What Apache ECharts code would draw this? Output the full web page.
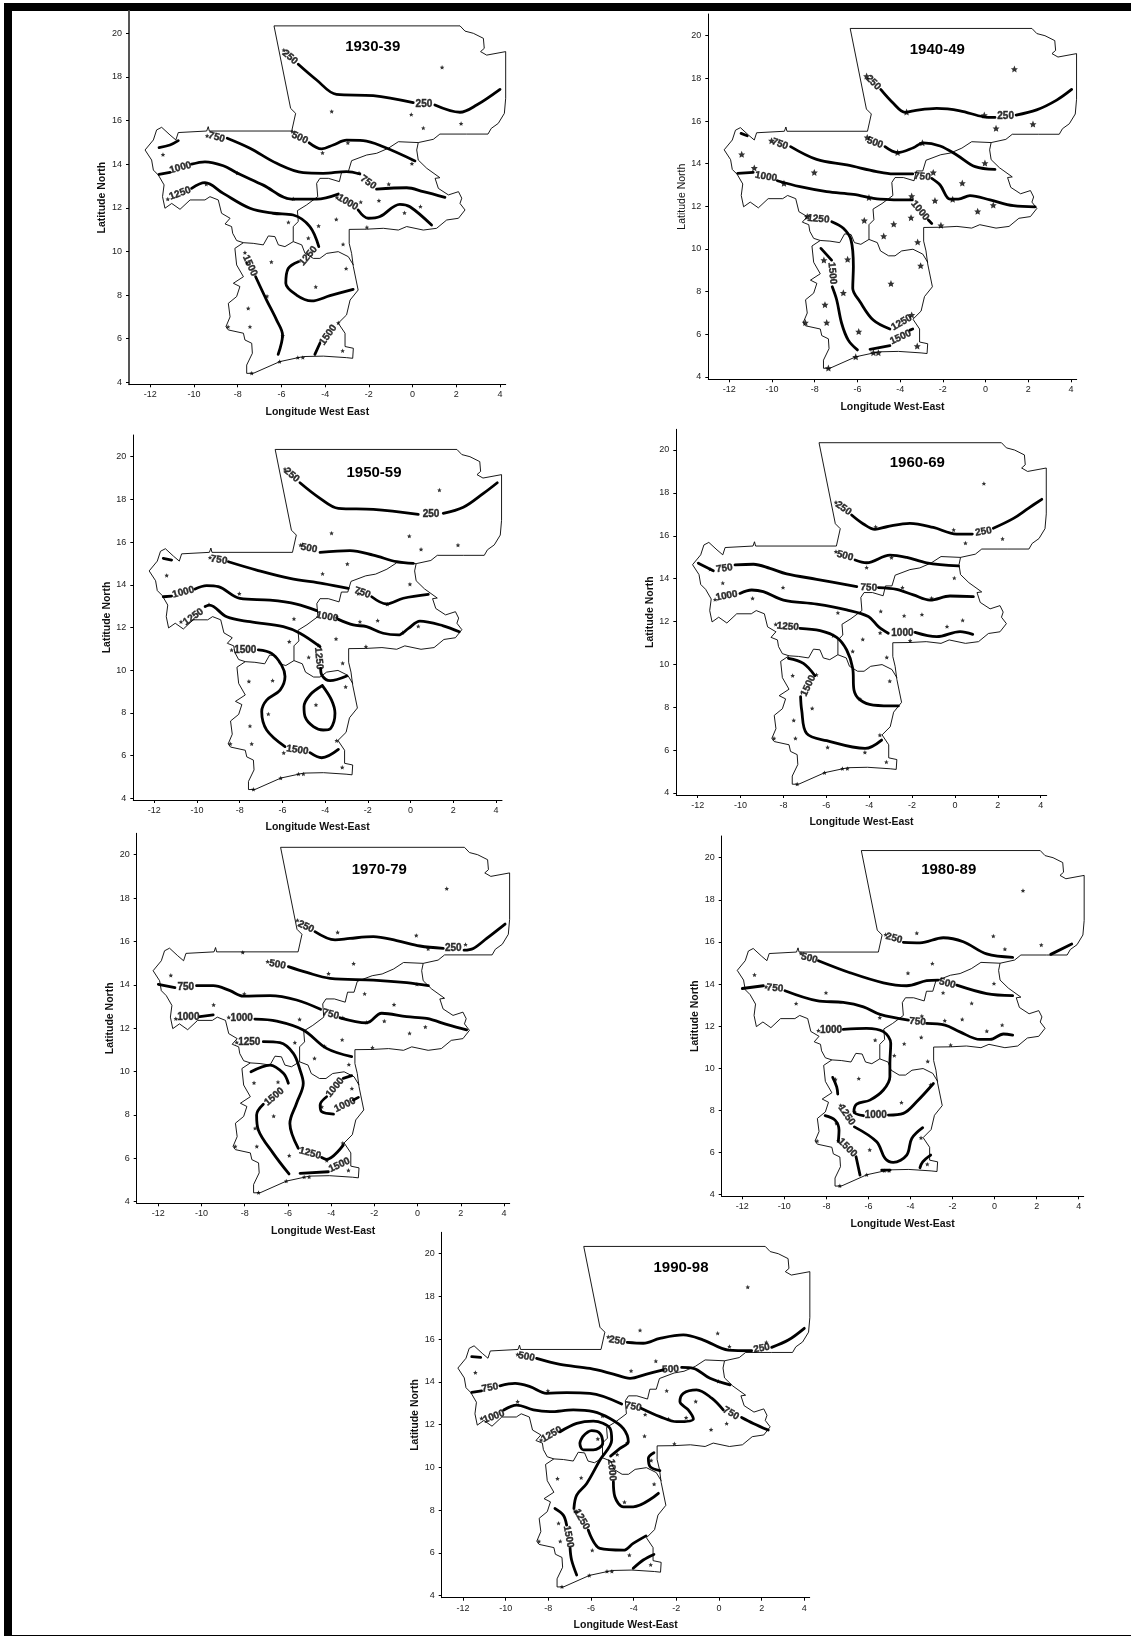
<!DOCTYPE html>
<html><head><meta charset="utf-8"><style>html,body{margin:0;padding:0;background:#fff}#c{width:1131px;height:1636px}</style>
<script src="https://cdn.jsdelivr.net/npm/echarts@6/dist/echarts.min.js"></script></head>
<body><div id="c"></div>
<script>
const xTicks=[-12,-10,-8,-6,-4,-2,0,2,4];
const yTicks=[4,6,8,10,12,14,16,18,20];
const outline=[[-6.34,20.34],[2.17,20.34],[2.4,20.1],[2.78,20.0],[3.24,19.77],[3.28,19.31],[3.11,19.16],[3.39,19.0],[4.26,19.16],[4.26,17.02],[4.2,16.33],[3.92,15.87],[3.6,15.64],[3.45,15.38],[2.47,15.38],[1.25,15.38],[0.95,15.14],[0.26,14.99],[0.19,14.65],[0.26,14.19],[0.65,13.81],[1.25,13.38],[1.03,13.35],[1.18,12.89],[1.64,12.59],[2.1,12.74],[2.25,12.44],[2.17,12.2],[2.4,11.9],[2.1,11.52],[1.56,11.44],[1.1,11.06],[0.49,10.98],[-0.27,11.14],[-0.65,10.98],[-1.34,11.06],[-2.1,11.02],[-2.9,11.01],[-2.9,10.37],[-2.79,9.91],[-2.71,9.3],[-2.49,8.23],[-2.86,7.77],[-3.02,7.09],[-3.4,6.71],[-3.09,6.25],[-3.09,5.64],[-2.71,5.56],[-2.74,5.1],[-3.02,5.13],[-4.08,5.2],[-5.0,5.18],[-6.07,4.95],[-7.29,4.41],[-7.59,4.41],[-7.59,4.79],[-7.33,5.33],[-7.36,5.79],[-7.67,5.94],[-7.74,6.25],[-8.43,6.4],[-8.54,6.55],[-8.35,7.0],[-8.43,7.62],[-8.05,7.93],[-7.9,8.39],[-8.2,8.54],[-7.74,8.84],[-8.05,9.38],[-8.13,10.14],[-7.74,10.4],[-8.05,10.5],[-8.23,10.83],[-8.28,11.14],[-8.58,11.26],[-8.35,11.52],[-8.74,11.75],[-8.89,12.36],[-9.27,12.51],[-9.5,12.36],[-10.18,12.36],[-10.64,11.93],[-11.02,12.2],[-11.33,11.98],[-11.44,12.51],[-11.37,13.05],[-11.63,13.5],[-11.86,13.73],[-11.94,14.19],[-12.24,14.65],[-11.86,15.11],[-11.71,15.57],[-11.48,15.69],[-11.1,15.34],[-10.83,15.11],[-10.72,15.45],[-9.42,15.52],[-9.35,15.72],[-9.3,15.52],[-5.53,15.52],[-5.35,16.33],[-5.58,16.56],[-6.34,20.34]];
const borderNorth=[[0.26,14.99],[-0.65,15.03],[-1.11,14.73],[-1.64,14.5],[-2.1,14.42],[-2.79,14.16],[-2.94,13.66],[-3.24,13.66],[-3.35,13.2],[-3.85,13.35],[-4.24,13.35],[-4.39,13.12],[-4.34,12.51],[-4.85,12.13],[-5.27,11.87],[-5.23,11.37],[-5.46,11.14],[-5.46,10.45],[-5.84,10.22],[-6.14,10.3],[-6.3,10.68],[-6.6,10.71],[-6.83,10.3],[-7.29,10.37],[-7.74,10.4]];
const borderSouth=[[-5.46,10.45],[-5.07,10.3],[-4.92,9.91],[-4.54,9.68],[-4.24,9.68],[-3.93,9.91],[-3.4,9.99],[-2.94,9.76],[-2.71,9.38]];
const stations=[[1.35,18.44],[-0.06,16.28],[0.49,15.66],[2.22,15.86],[-3.7,16.42],[-2.96,14.98],[-4.12,14.52],[-11.42,14.44],[-9.44,13.08],[-8.02,13.59],[-5.46,12.41],[-5.68,11.34],[-4.3,11.17],[-4.77,10.61],[-3.49,11.47],[-3.46,12.48],[-2.37,12.27],[-1.54,12.33],[-1.09,13.09],[-2.45,13.59],[-0.03,14.03],[0.36,12.06],[-0.37,11.77],[-2.09,11.11],[-3.18,10.33],[-3.04,9.22],[-4.43,8.38],[-6.46,9.52],[-7.57,9.48],[-6.66,7.95],[-7.52,7.39],[-7.44,6.55],[-8.44,6.55],[-5.94,6.13],[-3.2,5.45],[-6.08,4.95],[-7.36,4.42],[-5.25,5.14],[-5.02,5.14]];

const iso1930=[[[-5.23,18.58],[-4.39,17.86],[-3.48,17.2],[-1.8,17.14],[0.03,16.82]],[[1.02,16.71],[2.17,16.38],[2.93,16.71],[4.0,17.43]],[[-4.73,14.98],[-4.16,14.7],[-3.63,14.88],[-3.02,15.1],[-2.26,15.08],[-1.34,14.8],[0.11,14.15]],[[-11.6,14.76],[-11.1,14.88],[-10.72,15.08]],[[-8.48,15.19],[-7.44,14.73],[-6.22,14.04],[-5.0,13.61],[-4.09,13.58],[-3.02,13.66],[-2.41,13.55]],[[-1.65,12.86],[-0.27,12.92],[0.49,12.74],[1.48,12.48]],[[-11.6,13.53],[-11.1,13.62]],[[-10.11,14.0],[-9.5,14.11],[-8.66,13.93],[-8.05,13.61],[-6.83,13.04],[-5.54,12.4],[-4.39,12.4],[-3.4,12.63]],[[-2.49,11.9],[-2.03,11.52],[-1.49,11.6],[-0.58,12.16],[-0.12,12.05],[0.87,11.21]],[[-10.11,12.89],[-9.5,13.15],[-8.66,12.66],[-7.44,11.98],[-6.38,11.75],[-5.46,11.67],[-4.7,11.14],[-4.29,10.22]],[[-5.23,9.53],[-5.69,9.22],[-5.8,8.54],[-5.31,8.0],[-4.62,7.73],[-3.78,7.97],[-2.72,8.26]],[[-7.18,8.84],[-6.68,7.77],[-6.22,6.85],[-5.95,6.17],[-6.15,5.28]],[[-4.47,5.28],[-4.24,5.79]]];
const labels1930=[[-5.61,18.9,'250'],[0.52,16.76,'250'],[-5.16,15.21,'500'],[-8.97,15.23,'750'],[-2.03,13.17,'750'],[-10.62,13.84,'1000'],[-2.97,12.25,'1000'],[-10.64,12.66,'1250'],[-4.77,9.79,'1250'],[-7.44,9.35,'1500'],[-3.86,6.17,'1500']];
const rot1930=[-40,0,-25,-15,-35,15,-30,20,50,-65,55];
const extra1930=[[-9.4,15.3],[-11.2,12.4],[-7.67,9.95],[-5.89,19.23],[-3.4,6.73],[-5.5,15.5]];

const iso1940=[[[-4.91,17.48],[-4.32,16.83],[-3.77,16.41],[-3.38,16.48],[-2.29,16.59],[-1.2,16.48],[-0.1,16.2],[0.44,16.17]],[[1.43,16.28],[2.39,16.52],[3.33,16.98],[4.03,17.48]],[[-4.71,14.8],[-4.12,14.52],[-3.38,14.75],[-2.92,14.98],[-2.13,14.83],[-1.35,14.41],[-0.49,13.86],[0.44,13.73]],[[-9.13,14.8],[-7.91,14.2],[-6.5,13.94],[-5.1,13.63],[-4.32,13.52],[-3.41,13.52]],[[-2.52,13.31],[-2.13,13.0],[-1.67,12.34],[-1.28,12.34],[-0.73,12.5],[0.21,12.3],[1.3,12.03],[2.32,11.98]],[[-11.45,15.42],[-11.16,15.31]],[[-11.61,13.55],[-10.88,13.59]],[[-9.75,13.2],[-8.69,12.92],[-7.44,12.69],[-6.19,12.56],[-4.94,12.34],[-3.43,12.3]],[[-2.68,11.36],[-2.52,11.2]],[[-7.2,11.28],[-6.66,10.97],[-6.3,10.42],[-6.19,9.17],[-6.22,8.16],[-5.88,7.53],[-5.26,6.67],[-4.48,6.25]],[[-7.71,10.03],[-7.21,9.48]],[[-7.18,8.23],[-6.97,7.61],[-6.74,6.52],[-6.43,5.73],[-6.0,5.27]],[[-5.41,5.3],[-4.48,5.47]],[[-3.54,6.2],[-3.41,6.25]]];
const labels1940=[[-5.26,17.8,'250'],[0.94,16.23,'250'],[-5.18,14.98,'500'],[-9.63,14.92,'750'],[-2.96,13.39,'750'],[-10.28,13.39,'1000'],[-3.07,11.8,'1000'],[-7.83,11.41,'1250'],[-3.93,6.55,'1250'],[-7.18,8.86,'1500'],[-3.98,5.86,'1500']];
const rot1940=[-45,0,-20,-20,-5,-10,-50,-5,30,-85,25];
const extra1940=[[-5.57,18.11],[-10.02,15.08],[-5.54,15.23],[-8.35,11.52],[-3.46,6.91],[-10.83,13.8]];

const iso1950=[[[-5.18,18.78],[-4.24,18.05],[-3.38,17.58],[-1.74,17.53],[0.36,17.3]],[[1.53,17.35],[2.47,17.63],[3.41,18.28],[4.06,18.78]],[[-4.24,15.52],[-2.84,15.6],[-1.75,15.39],[-0.65,15.08],[0.13,15.0]],[[-11.58,15.24],[-11.19,15.16]],[[-8.53,15.08],[-7.21,14.69],[-5.65,14.3],[-4.09,14.06],[-2.92,13.83]],[[-1.82,13.44],[-1.12,13.1],[-0.34,13.37],[0.83,13.55]],[[-11.58,13.44],[-11.19,13.47]],[[-10.09,13.8],[-9.55,13.96],[-9.0,13.91],[-7.99,13.36],[-6.58,13.28],[-5.34,13.1],[-4.4,12.79]],[[-3.38,12.38],[-2.68,12.12],[-2.06,12.04],[-1.28,11.73],[-0.57,11.65],[-0.1,11.96],[0.44,12.3],[1.53,12.08],[2.28,11.8]],[[-9.62,12.98],[-9.42,13.05],[-8.61,12.5],[-7.52,12.27],[-5.96,12.04],[-5.18,11.73],[-4.24,11.1]],[[-4.21,10.09],[-4.16,9.78],[-3.77,9.51],[-2.99,9.73]],[[-4.13,9.28],[-4.71,8.84],[-4.99,8.29],[-4.94,7.82],[-4.55,7.36],[-4.09,7.2],[-3.74,7.28],[-3.54,7.98],[-3.7,8.6],[-4.13,9.28]],[[-7.13,10.95],[-6.51,10.79],[-6.04,10.24],[-5.88,9.7],[-6.11,9.07],[-6.74,8.6],[-6.97,8.06],[-6.74,7.2],[-5.88,6.42]],[[-4.71,6.14],[-4.16,5.9],[-3.38,6.29]]];
const labels1950=[[-5.57,19.14,'250'],[0.96,17.32,'250'],[-4.76,15.71,'500'],[-8.97,15.16,'750'],[-2.26,13.63,'750'],[-10.64,13.65,'1000'],[-3.9,12.5,'1000'],[-10.17,12.5,'1250'],[-4.3,10.55,'1250'],[-7.74,10.92,'1500'],[-5.3,6.26,'1500']];
const rot1950=[-40,0,-10,-8,-20,15,-10,35,-85,0,-8];
const extra1950=[[-5.88,19.42],[-5.15,15.86],[-9.39,15.28],[-10.75,12.27],[-8.38,10.95],[-3.46,6.7]];

const iso1960=[[[-4.82,16.97],[-4.27,16.55],[-3.73,16.3],[-3.18,16.42],[-2.1,16.58],[-1.01,16.39],[0.08,16.08],[0.81,16.08]],[[1.79,16.35],[2.73,16.81],[3.42,17.28],[4.05,17.7]],[[-4.66,14.87],[-4.12,14.74],[-3.03,15.1],[-2.25,14.99],[-1.32,14.74],[0.16,14.59]],[[-11.97,14.72],[-11.27,14.37]],[[-10.26,14.64],[-9.4,14.67],[-8.63,14.48],[-7.85,14.22],[-6.45,13.97],[-4.58,13.63]],[[-3.57,13.58],[-2.72,13.5],[-1.94,13.24],[-1.16,13.0],[-0.23,13.19],[0.86,13.16]],[[-10.03,13.31],[-9.48,13.47],[-8.94,13.39],[-8.0,13.0],[-6.45,12.81],[-5.05,12.54],[-4.04,12.23],[-3.57,11.76],[-3.11,11.45]],[[-1.86,11.49],[-0.85,11.29],[0.24,11.53],[0.83,11.4]],[[-7.23,11.68],[-6.29,11.57],[-5.52,11.26],[-5.05,10.67],[-4.77,9.82],[-4.71,8.8],[-4.43,8.34],[-3.81,8.1],[-2.64,8.06]],[[-7.77,10.28],[-7.07,10.05],[-6.53,9.47]],[[-7.2,8.49],[-7.15,7.87],[-6.92,6.78],[-5.98,6.44],[-4.19,6.08],[-3.42,6.47]]];
const labels1960=[[-5.2,17.28,'250'],[1.33,16.19,'250'],[-5.13,15.06,'500'],[-10.76,14.48,'750'],[-4.02,13.58,'750'],[-10.65,13.2,'1000'],[-2.45,11.45,'1000'],[-7.8,11.76,'1250'],[-6.84,9.0,'1500']];
const rot1960=[-35,10,-15,8,-3,10,0,-5,65];
const extra1960=[[-5.55,17.56],[-5.55,15.26],[-11.19,13.03],[-8.36,11.87],[-10.83,13.8],[-3.5,6.7],[-4.2,5.9]];

const iso1970=[[[-4.75,16.45],[-3.82,16.07],[-3.13,16.14],[-2.05,16.22],[-0.97,16.04],[0.11,15.79],[1.19,15.68]],[[2.15,15.6],[2.58,15.68],[3.2,16.14],[4.05,16.8]],[[-5.98,14.84],[-5.13,14.57],[-4.05,14.3],[-2.05,14.22],[-0.5,14.1],[0.5,13.96]],[[-12.0,14.02],[-11.23,13.87]],[[-10.23,13.96],[-9.46,13.96],[-8.68,13.73],[-8.07,13.48],[-6.83,13.5],[-5.6,13.3],[-4.49,12.87]],[[-3.59,12.48],[-2.36,12.25],[-1.66,12.69],[-0.5,12.53],[0.42,12.45],[1.42,12.15],[2.27,11.92]],[[-10.07,12.53],[-9.46,12.61]],[[-7.53,12.42],[-6.52,12.33],[-5.29,11.92],[-4.21,11.07],[-3.05,10.69]],[[-7.14,11.38],[-6.37,11.33],[-5.75,10.84],[-5.44,10.07],[-5.29,9.46],[-5.6,8.54],[-5.91,7.61],[-5.52,6.46]],[[-4.44,6.04],[-4.21,5.95],[-3.44,6.61]],[[-7.71,9.99],[-6.83,10.3],[-6.21,9.92],[-5.98,9.46]],[[-7.14,8.49],[-7.45,8.0],[-7.37,7.31],[-6.68,6.23],[-5.95,5.28]],[[-5.44,5.31],[-4.13,5.38]],[[-3.05,9.81],[-3.44,9.69]],[[-4.21,8.84],[-4.51,8.46],[-4.44,8.15],[-3.89,8.04]],[[-2.97,8.69],[-2.74,8.81]]];
const labels1970=[[-5.17,16.68,'250'],[1.65,15.67,'250'],[-6.48,14.94,'500'],[-10.73,13.88,'750'],[-4.02,12.64,'750'],[-10.61,12.5,'1000'],[-8.14,12.45,'1000'],[-7.79,11.33,'1250'],[-3.82,9.27,'1000'],[-3.36,8.46,'1000'],[-6.63,8.84,'1500'],[-4.98,6.23,'1250'],[-3.62,5.69,'1500']];
const rot1970=[-25,0,-10,0,-15,0,0,0,50,25,40,-15,25];
const extra1970=[[-5.56,16.98],[-6.94,15.07],[-11.19,12.44],[-8.74,12.5],[-8.37,11.35],[-8.09,15.5],[-4.2,5.9],[-3.46,6.7]];

const iso1980=[[[-4.34,15.98],[-3.55,15.96],[-2.44,16.2],[-1.49,16.01],[-0.38,15.43],[0.86,15.27]],[[2.67,15.41],[3.67,15.9]],[[-8.38,15.11],[-6.88,14.54],[-5.29,14.06],[-4.18,13.92],[-3.23,14.16],[-2.68,14.19]],[[-1.8,13.95],[-0.38,13.55],[0.86,13.45]],[[-12.0,13.79],[-11.0,13.92]],[[-9.97,13.68],[-8.46,13.21],[-7.2,13.13],[-6.24,12.92],[-5.45,12.56],[-4.1,12.29]],[[-3.23,12.13],[-2.36,12.05],[-1.65,11.73],[-0.69,11.37],[-0.22,11.37],[0.42,11.63],[0.86,11.58]],[[-7.2,11.85],[-6.09,11.9],[-5.29,11.74],[-4.94,11.18],[-4.98,10.23],[-4.98,9.6],[-5.29,8.97],[-5.93,8.49],[-6.56,8.3],[-6.69,7.94],[-6.24,7.75]],[[-5.05,7.78],[-4.34,7.86],[-3.71,8.41],[-2.91,9.28]],[[-7.7,9.57],[-7.51,9.12],[-7.46,8.78]],[[-6.67,7.22],[-5.61,6.51],[-5.21,5.72],[-4.82,5.53],[-4.18,5.88],[-3.94,6.67],[-3.42,7.18]],[[-8.06,7.75],[-7.59,7.54],[-7.4,7.07],[-7.43,6.56]],[[-6.59,5.8],[-6.4,4.93]],[[-3.55,5.28],[-3.42,5.56],[-3.04,5.88]],[[-5.37,5.17],[-4.97,5.17]]];
const labels1980=[[-4.78,16.17,'250'],[-8.81,15.22,'500'],[-2.25,14.03,'500'],[-10.45,13.8,'750'],[-3.67,12.21,'750'],[-7.78,11.81,'1000'],[-5.65,7.78,'1000'],[-7.04,7.78,'1250'],[-7.0,6.23,'1500']];
const rot1980=[-15,-15,-15,-5,-5,0,0,-55,-45];
const extra1980=[[-5.18,16.35],[-9.21,15.46],[-10.87,13.87],[-8.38,11.79],[-7.32,8.24],[-3.5,6.7]];

const iso1990=[[[-4.3,15.85],[-3.55,15.81],[-2.77,16.04],[-1.67,16.2],[-0.73,15.96],[0.44,15.49],[1.53,15.46]],[[2.47,15.62],[3.25,15.96],[4.0,16.51]],[[-8.55,15.1],[-7.45,14.82],[-6.05,14.63],[-4.95,14.37],[-4.17,14.17],[-3.39,14.37],[-2.61,14.56]],[[-1.75,14.68],[-1.2,14.64],[-0.42,14.17],[0.52,13.86]],[[-11.59,15.18],[-11.17,15.15]],[[-11.59,13.51],[-11.13,13.58]],[[-10.27,13.82],[-9.56,13.93],[-8.86,13.78],[-8.08,13.47],[-7.14,13.5],[-6.05,13.47],[-4.56,12.97]],[[-3.63,12.76],[-2.77,12.38],[-1.98,12.14],[-1.2,12.27],[-1.44,12.69],[-1.83,13.08],[-1.67,13.47],[-1.05,13.63],[-0.34,13.24],[0.2,12.69]],[[1.06,12.34],[1.61,12.06],[2.31,11.75]],[[-10.09,12.69],[-9.48,12.92],[-8.7,12.69],[-7.92,12.61],[-6.83,12.69],[-5.89,12.61],[-5.11,12.29],[-4.48,11.82],[-4.25,11.2],[-4.64,10.89],[-5.08,10.53]],[[-4.95,9.33],[-4.88,8.63],[-4.48,8.16],[-4.02,8.16],[-2.84,8.79]],[[-3.05,10.69],[-3.31,10.43],[-3.23,10.04],[-2.77,9.85]],[[-7.45,11.67],[-6.67,12.06],[-5.89,12.17],[-5.11,11.83],[-5.03,11.28],[-5.58,10.35],[-6.2,9.25],[-6.67,8.71],[-6.8,8.08]],[[-6.13,7.07],[-5.58,6.21],[-4.48,6.13],[-4.02,6.45],[-3.42,6.8]],[[-6.39,11.44],[-5.97,11.72],[-5.58,11.59],[-5.45,11.13],[-5.89,10.82],[-6.36,10.82],[-6.52,11.13],[-6.39,11.44]],[[-7.69,8.08],[-7.3,7.77],[-7.14,7.3]],[[-6.98,6.21],[-6.91,5.67],[-6.67,4.97]],[[-4.02,5.28],[-3.55,5.67],[-3.05,5.93]]];
const labels1990=[[-4.77,15.93,'250'],[2.0,15.57,'250'],[-9.02,15.18,'500'],[-2.27,14.59,'500'],[-10.73,13.73,'750'],[-4.02,12.84,'750'],[0.56,12.53,'750'],[-10.55,12.38,'1000'],[-5.03,9.88,'1000'],[-7.84,11.55,'1250'],[-6.44,7.57,'1250'],[-7.06,6.76,'1500']];
const rot1990=[-10,10,-10,3,10,-10,-30,20,-85,30,-60,-80];
const extra1990=[[-9.44,15.29],[-5.19,16.11],[-11.13,12.3],[-8.34,11.28],[-6.75,7.96],[-4.2,5.9]];

const titles=['1930-39','1940-49','1950-59','1960-69','1970-79','1980-89','1990-98'];
const xNames=['Longitude West East','Longitude West-East','Longitude West-East','Longitude West-East','Longitude West-East','Longitude West-East','Longitude West-East'];
const isoAll=[iso1930,iso1940,iso1950,iso1960,iso1970,iso1980,iso1990];
const labelAll=[labels1930,labels1940,labels1950,labels1960,labels1970,labels1980,labels1990];
const rotAll=[rot1930,rot1940,rot1950,rot1960,rot1970,rot1980,rot1990];
const extraAll=[extra1930,extra1940,extra1950,extra1960,extra1970,extra1980,extra1990];

// page layout: axis left, right, top, bottom; pixel of lon -12, lon 4, lat 20, lat 4; title centre
const layout=[
 [129,505.7,11,384.3,150.3,500,33.3,382.3,372.7,46.7],
 [708.3,1076.7,14,379.3,729.3,1071,35.7,377,937.3,50],
 [133.3,502,435,800,154.3,496,456.7,798.3,374,472.7],
 [676.3,1046.7,429.3,795,697.7,1040.7,450,793,917.3,462.7],
 [136.7,509.7,833.3,1203.3,158.3,504,854.7,1201.7,379.3,870],
 [721.7,1083.7,836,1196.3,742.3,1078.7,857.7,1194.7,948.7,870],
 [441.7,809.7,1232.3,1597.7,463,804.3,1253.7,1595.7,681,1267.7]
];
const FONT='"Liberation Sans",Arial,sans-serif';
const STAR='path://M0,-10 L2.9,-3.1 9.5,-3.1 4.7,1.5 5.9,8.1 0,4.6 -5.9,8.1 -4.7,1.5 -9.5,-3.1 -2.9,-3.1 Z';

const grid=[],xAxis=[],yAxis=[],title=[],series=[];
layout.forEach((p,i)=>{
  const [l,r,t,b,xa,xb,ya,yb,tx,ty]=p;
  const sx=(xb-xa)/16, sy=(yb-ya)/16;
  grid.push({left:l,top:t,width:r-l,height:b-t,containLabel:false});
  const axisLine={show:true,onZero:false,lineStyle:{color:'#000',width:1}};
  xAxis.push({type:'value',gridIndex:i,min:-12-(xa-l)/sx,max:4+(r-xb)/sx,splitLine:{show:false},axisLine,
    axisTick:{show:true,length:3,customValues:xTicks,lineStyle:{color:'#000'}},
    axisLabel:{show:true,customValues:xTicks,margin:6,fontSize:9,color:'#222',fontFamily:FONT},
    name:xNames[i],nameLocation:'middle',nameGap:22,nameTextStyle:{fontSize:10.5,fontWeight:'bold',color:'#111',fontFamily:FONT}});
  yAxis.push({type:'value',gridIndex:i,min:4-(b-yb)/sy,max:20+(ya-t)/sy,splitLine:{show:false},
    axisLine:i===0?{show:true,onZero:false,lineStyle:{color:'#555',width:2}}:axisLine,
    axisTick:{show:true,length:3,customValues:yTicks,lineStyle:{color:'#000'}},
    axisLabel:{show:true,customValues:yTicks,margin:7,fontSize:9,color:'#222',fontFamily:FONT},
    name:'Latitude North',nameLocation:'middle',nameGap:21,nameRotate:90,
    nameTextStyle:{fontSize:10.5,fontWeight:i===1?'normal':'bold',color:'#111',fontFamily:FONT}});
  title.push({text:titles[i],left:tx,top:ty,textAlign:'center',textVerticalAlign:'middle',padding:0,
    textStyle:{fontSize:15,fontWeight:'bold',color:'#000',fontFamily:FONT}});
  const base={xAxisIndex:i,yAxisIndex:i,silent:true,animation:false};
  [outline,borderNorth,borderSouth].forEach(d=>series.push({...base,type:'line',data:d,showSymbol:false,symbol:'none',clip:false,
    lineStyle:{color:'#000',width:0.9}}));
  isoAll[i].forEach(d=>series.push({...base,type:'line',data:d,showSymbol:false,symbol:'none',smooth:0.35,clip:false,z:3,
    lineStyle:{color:'#000',width:2.8,cap:'round',join:'round'}}));
  series.push({...base,type:'scatter',data:stations.concat(extraAll[i]),symbol:STAR,symbolSize:i===1?7:4.5,itemStyle:{color:'#000'},z:4});
  series.push({...base,type:'scatter',symbol:'circle',symbolSize:1,itemStyle:{color:'transparent'},z:5,
    data:labelAll[i].map((d,k)=>({value:[d[0],d[1]],label:{show:true,position:'inside',formatter:d[2],rotate:rotAll[i][k],
      fontSize:10,fontWeight:'bold',color:'#000',textBorderColor:'#000',textBorderWidth:0.4,fontFamily:FONT,align:'center',verticalAlign:'middle'}}))});
});
const chart=echarts.init(document.getElementById('c'),null,{renderer:'canvas',width:1131,height:1636});
chart.setOption({animation:false,backgroundColor:'#fff',grid,xAxis,yAxis,title,series,
  graphic:[
   {type:'rect',shape:{x:4,y:3,width:1127,height:8},style:{fill:'#000'},silent:true},
   {type:'rect',shape:{x:4,y:3,width:8,height:1633},style:{fill:'#000'},silent:true},
   {type:'rect',shape:{x:12,y:1635,width:1119,height:1},style:{fill:'#000'},silent:true}
  ]});
</script></body></html>
